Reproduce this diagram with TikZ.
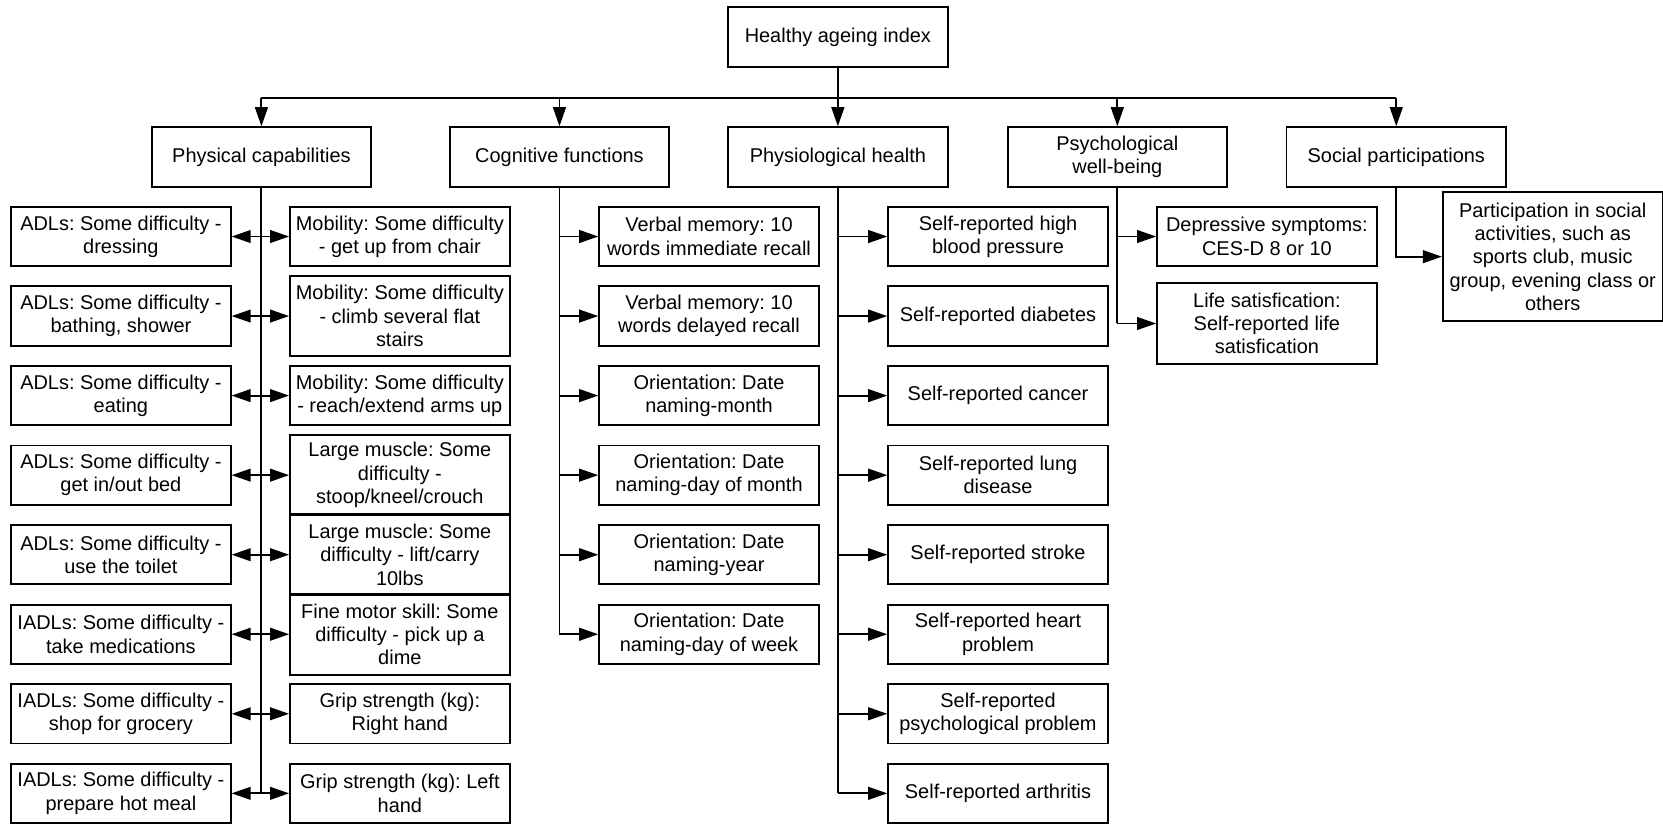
\documentclass[tikz,border=0pt]{standalone}
\usepackage{fontspec}
\setmainfont{Liberation Sans}
\usetikzlibrary{arrows.meta}
\frenchspacing
\begin{document}
\begin{tikzpicture}[x=0.5pt,y=-0.5pt,font=\fontsize{9.4}{11}\selectfont,box/.style={shape=rectangle,draw=black,line width=0.9pt,align=center,minimum width=103.5pt,minimum height=28pt,inner sep=2pt},boxT/.style={box,minimum height=38pt},boxS/.style={box,minimum height=61pt},link/.style={line width=0.9pt},arr/.style={link,-{Triangle[length=9pt,width=6pt]}}]
\def\yl{223};
\def\dy{75};
\def\xl{114};
\def\xr{377};
\def\xc{668.5};
\def\xb{941};
\def\xw{1194.5};

\useasboundingbox (0,0) rectangle (1568,778);

\node[box] (H) at (790,35) {Healthy ageing index};

\node[box] (P) at (246.5,148) {Physical capabilities};
\node[box] (C) at (527.5,148) {Cognitive functions};
\node[box] (B) at (790,148) {Physiological health};
\node[box] (W) at (1053.5,148) {Psychological\\well-being};
\node[box] (S) at (1316.5,148) {Social participations};

\coordinate (bus) at (790,92);
\draw[link] (P.north |- bus) -- (S.north |- bus);
\draw[arr] (H.south) -- (B.north);
\draw[arr] (P.north |- bus) -- (P.north);
\draw[arr] (C.north |- bus) -- (C.north);
\draw[arr] (W.north |- bus) -- (W.north);
\draw[arr] (S.north |- bus) -- (S.north);

\node[box] (P1) at (\xl,\yl) {ADLs: Some difficulty -\\dressing};
\node[box] (P2) at (\xl,\yl+\dy) {ADLs: Some difficulty -\\bathing, shower};
\node[box] (P3) at (\xl,\yl+2*\dy) {ADLs: Some difficulty -\\eating};
\node[box] (P4) at (\xl,\yl+3*\dy) {ADLs: Some difficulty -\\get in/out bed};
\node[box] (P5) at (\xl,\yl+4*\dy) {ADLs: Some difficulty -\\use the toilet};
\node[box] (P6) at (\xl,\yl+5*\dy) {IADLs: Some difficulty -\\take medications};
\node[box] (P7) at (\xl,\yl+6*\dy) {IADLs: Some difficulty -\\shop for grocery};
\node[box] (P8) at (\xl,\yl+7*\dy) {IADLs: Some difficulty -\\prepare hot meal};

\node[box] (Q1) at (\xr,\yl) {Mobility: Some difficulty\\- get up from chair};
\node[boxT] (Q2) at (\xr,\yl+\dy) {Mobility: Some difficulty\\- climb several flat\\stairs};
\node[box] (Q3) at (\xr,\yl+2*\dy) {Mobility: Some difficulty\\- reach/extend arms up};
\node[boxT] (Q4) at (\xr,\yl+3*\dy) {Large muscle: Some\\difficulty -\\stoop/kneel/crouch};
\node[boxT] (Q5) at (\xr,\yl+4*\dy) {Large muscle: Some\\difficulty - lift/carry\\10lbs};
\node[boxT] (Q6) at (\xr,\yl+5*\dy) {Fine motor skill: Some\\difficulty - pick up a\\dime};
\node[box] (Q7) at (\xr,\yl+6*\dy) {Grip strength (kg):\\Right hand};
\node[box] (Q8) at (\xr,\yl+7*\dy) {Grip strength (kg): Left\\hand};

\draw[link] (P.south) -- (P.south |- P8.east);
\draw[arr] (P.south |- P1.east) -- (P1.east);
\draw[arr] (P.south |- P2.east) -- (P2.east);
\draw[arr] (P.south |- P3.east) -- (P3.east);
\draw[arr] (P.south |- P4.east) -- (P4.east);
\draw[arr] (P.south |- P5.east) -- (P5.east);
\draw[arr] (P.south |- P6.east) -- (P6.east);
\draw[arr] (P.south |- P7.east) -- (P7.east);
\draw[arr] (P.south |- P8.east) -- (P8.east);
\draw[arr] (P.south |- Q1.west) -- (Q1.west);
\draw[arr] (P.south |- Q2.west) -- (Q2.west);
\draw[arr] (P.south |- Q3.west) -- (Q3.west);
\draw[arr] (P.south |- Q4.west) -- (Q4.west);
\draw[arr] (P.south |- Q5.west) -- (Q5.west);
\draw[arr] (P.south |- Q6.west) -- (Q6.west);
\draw[arr] (P.south |- Q7.west) -- (Q7.west);
\draw[arr] (P.south |- Q8.west) -- (Q8.west);

\node[box] (C1) at (\xc,\yl) {Verbal memory: 10\\words immediate recall};
\node[box] (C2) at (\xc,\yl+\dy) {Verbal memory: 10\\words delayed recall};
\node[box] (C3) at (\xc,\yl+2*\dy) {Orientation: Date\\naming-month};
\node[box] (C4) at (\xc,\yl+3*\dy) {Orientation: Date\\naming-day of month};
\node[box] (C5) at (\xc,\yl+4*\dy) {Orientation: Date\\naming-year};
\node[box] (C6) at (\xc,\yl+5*\dy) {Orientation: Date\\naming-day of week};

\draw[link] (C.south) -- (C.south |- C6.west);
\draw[arr] (C.south |- C1.west) -- (C1.west);
\draw[arr] (C.south |- C2.west) -- (C2.west);
\draw[arr] (C.south |- C3.west) -- (C3.west);
\draw[arr] (C.south |- C4.west) -- (C4.west);
\draw[arr] (C.south |- C5.west) -- (C5.west);
\draw[arr] (C.south |- C6.west) -- (C6.west);

\node[box] (B1) at (\xb,\yl) {Self-reported high\\blood pressure};
\node[box] (B2) at (\xb,\yl+\dy) {Self-reported diabetes};
\node[box] (B3) at (\xb,\yl+2*\dy) {Self-reported cancer};
\node[box] (B4) at (\xb,\yl+3*\dy) {Self-reported lung\\disease};
\node[box] (B5) at (\xb,\yl+4*\dy) {Self-reported stroke};
\node[box] (B6) at (\xb,\yl+5*\dy) {Self-reported heart\\problem};
\node[box] (B7) at (\xb,\yl+6*\dy) {Self-reported\\psychological problem};
\node[box] (B8) at (\xb,\yl+7*\dy) {Self-reported arthritis};

\draw[link] (B.south) -- (B.south |- B8.west);
\draw[arr] (B.south |- B1.west) -- (B1.west);
\draw[arr] (B.south |- B2.west) -- (B2.west);
\draw[arr] (B.south |- B3.west) -- (B3.west);
\draw[arr] (B.south |- B4.west) -- (B4.west);
\draw[arr] (B.south |- B5.west) -- (B5.west);
\draw[arr] (B.south |- B6.west) -- (B6.west);
\draw[arr] (B.south |- B7.west) -- (B7.west);
\draw[arr] (B.south |- B8.west) -- (B8.west);

\node[box] (W1) at (\xw,\yl) {Depressive symptoms:\\CES-D 8 or 10};
\node[boxT] (W2) at (\xw,305) {Life satisfication:\\Self-reported life\\satisfication};

\draw[link] (W.south) -- (W.south |- W2.west);
\draw[arr] (W.south |- W1.west) -- (W1.west);
\draw[arr] (W.south |- W2.west) -- (W2.west);

\node[boxS] (S1) at (1464,242) {Participation in social\\activities, such as\\sports club, music\\group, evening class or\\others};

\draw[arr] (S.south) |- (S1.west);
\end{tikzpicture}
\end{document}
